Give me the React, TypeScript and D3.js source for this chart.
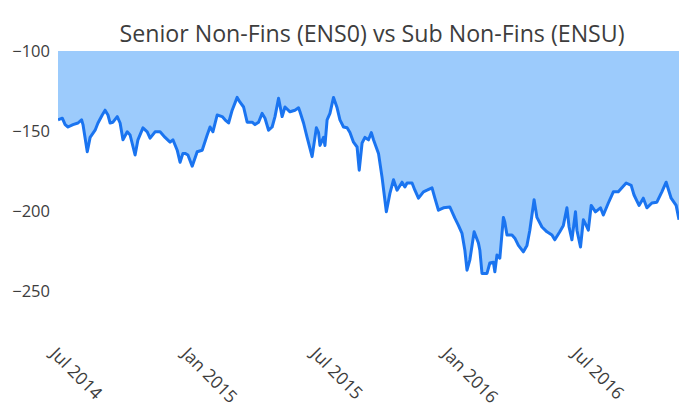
import React from "react";
import * as d3 from "d3";

const TITLE = "Senior Non-Fins (ENS0) vs Sub Non-Fins (ENSU)";

const dates: string[] = [
  "2014-07-09","2014-07-15","2014-07-19","2014-07-23","2014-07-30","2014-08-06","2014-08-11","2014-08-13","2014-08-19","2014-08-23",
  "2014-08-30","2014-09-03","2014-09-09","2014-09-13","2014-09-17","2014-09-20","2014-09-24","2014-09-30","2014-10-04","2014-10-08",
  "2014-10-14","2014-10-18","2014-10-25","2014-10-29","2014-11-05","2014-11-11","2014-11-15","2014-11-22","2014-11-29","2014-12-06",
  "2014-12-13","2014-12-17","2014-12-23","2014-12-27","2014-12-31","2015-01-03","2015-01-07","2015-01-13","2015-01-20","2015-01-27",
  "2015-02-03","2015-02-07","2015-02-11","2015-02-17","2015-02-24","2015-02-28","2015-03-05","2015-03-10","2015-03-17","2015-03-21",
  "2015-03-26","2015-03-31","2015-04-07","2015-04-11","2015-04-16","2015-04-21","2015-04-25","2015-04-30","2015-05-05","2015-05-09",
  "2015-05-14","2015-05-19","2015-05-23","2015-05-30","2015-06-06","2015-06-11","2015-06-13","2015-06-18","2015-06-23","2015-06-30",
  "2015-07-06","2015-07-09","2015-07-11","2015-07-16","2015-07-18","2015-07-21","2015-07-25","2015-07-30","2015-08-04","2015-08-08",
  "2015-08-13","2015-08-18","2015-08-22","2015-08-27","2015-09-01","2015-09-04","2015-09-08","2015-09-12","2015-09-17","2015-09-21",
  "2015-09-24","2015-10-01","2015-10-06","2015-10-12","2015-10-17","2015-10-22","2015-10-27","2015-11-03","2015-11-07","2015-11-10",
  "2015-11-17","2015-11-21","2015-11-26","2015-12-03","2015-12-08","2015-12-15","2015-12-19","2015-12-24","2015-12-31","2016-01-09",
  "2016-01-16","2016-01-21","2016-01-26","2016-01-30","2016-02-02","2016-02-06","2016-02-12","2016-02-18","2016-02-20","2016-02-23",
  "2016-03-01","2016-03-05","2016-03-10","2016-03-12","2016-03-15","2016-03-19","2016-03-24","2016-03-26","2016-03-29","2016-04-05",
  "2016-04-09","2016-04-14","2016-04-21","2016-04-26","2016-04-30","2016-05-06","2016-05-10","2016-05-17","2016-05-24","2016-05-31",
  "2016-06-04","2016-06-11","2016-06-16","2016-06-21","2016-06-24","2016-06-28","2016-07-03","2016-07-05","2016-07-10","2016-07-14",
  "2016-07-18","2016-07-21","2016-07-25","2016-07-31","2016-08-07","2016-08-11","2016-08-18","2016-08-25","2016-09-01","2016-09-06",
  "2016-09-12","2016-09-19","2016-09-23","2016-09-30","2016-10-06","2016-10-11","2016-10-18","2016-10-25","2016-11-01","2016-11-07",
  "2016-11-14","2016-11-21","2016-11-25"
];

const spread: number[] = [
  -143,-142,-146,-147.5,-146,-145,-143,-146,-163,-154,
  -149.5,-145,-140,-137,-140,-145,-144.5,-141,-145,-155.5,
  -150.5,-152.5,-165,-155.5,-148,-150.5,-154.5,-150.5,-150.5,-154,
  -157,-155.5,-162,-169.5,-164,-164,-165,-172,-163,-162,
  -152.5,-147.5,-150.5,-140,-141,-143,-145,-137,-129,-132,
  -135,-144.5,-144.5,-146,-144.5,-139,-142,-149.5,-147.5,-141,
  -129.5,-141,-135,-138,-137,-135.5,-138,-145,-154,-166,
  -148,-151,-159,-154,-159,-143,-139,-129,-135.5,-143,
  -147.5,-148,-151,-157,-160,-174.5,-157.5,-154,-155.5,-151,
  -155.5,-164,-179,-200.5,-189,-180.5,-187,-182,-185,-182.5,
  -182.5,-187,-192,-188,-187,-185.5,-192,-199.5,-198,-197.5,
  -204.5,-209,-214,-224.5,-237,-230.5,-213,-220,-224.5,-239,
  -239,-232.5,-232,-238,-227.5,-229.5,-204,-207,-215,-215,
  -217,-221.5,-225.5,-221.5,-212,-193,-204,-210,-213,-215,
  -218,-213,-209,-198,-210,-218,-200.5,-212,-222.5,-205.5,
  -209,-212,-196.5,-200.5,-198,-202.5,-195,-188,-188,-185.5,
  -182.5,-184,-190,-196.5,-192,-198,-195,-194.5,-188,-182,
  -192,-196.5,-205.5
];

const yTicks: number[] = [-100, -150, -200, -250];
const xTickDates: string[] = ["2014-07-01", "2015-01-01", "2015-07-01", "2016-01-01", "2016-07-01"];
const xTickLabels: string[] = ["Jul 2014", "Jan 2015", "Jul 2015", "Jan 2016", "Jul 2016"];

const W = 679;
const H = 403;
const M = { left: 58, right: 0, top: 51, bottom: 112 };

export default function App() {
  const parse = d3.timeParse("%Y-%m-%d");
  const data = dates.map((d, i) => ({ date: parse(d) as Date, v: spread[i] }));

  const x = d3
    .scaleTime()
    .domain([parse("2014-07-09") as Date, parse("2016-11-25") as Date])
    .range([M.left, W - M.right]);
  const y = d3.scaleLinear().domain([-100, -250]).range([M.top, M.top + 240]);

  const area = d3
    .area<{ date: Date; v: number }>()
    .x((d) => x(d.date))
    .y0(y(-100))
    .y1((d) => y(d.v));
  const line = d3
    .line<{ date: Date; v: number }>()
    .x((d) => x(d.date))
    .y((d) => y(d.v));

  const font = "'Open Sans', 'Noto Sans', sans-serif";

  return (
    <svg
      width={W}
      height={H}
      style={{ position: "absolute", left: 0, top: 0, background: "#fff" }}
      fontFamily={font}
    >
      <defs>
        <clipPath id="plotclip">
          <rect x={M.left} y={0} width={W - M.left - M.right} height={H} />
        </clipPath>
      </defs>
      <text x={372} y={42} textAnchor="middle" fontSize={23.2} fill="#3d3d3d">
        {TITLE}
      </text>
      <g clipPath="url(#plotclip)">
        <path d={area(data) || ""} fill="#9ccbfc" />
        <path
          d={line(data) || ""}
          fill="none"
          stroke="#1a74f0"
          strokeWidth={3}
          strokeLinejoin="round"
        />
      </g>
      {yTicks.map((t) => (
        <text
          key={t}
          x={50}
          y={y(t)}
          dy="0.35em"
          textAnchor="end"
          fontSize={16.5}
          fill="#3d3d3d"
        >
          {"\u2212" + Math.abs(t)}
        </text>
      ))}
      {xTickDates.map((d, i) => {
        const tx = x(parse(d) as Date) - 3;
        const ty = 355;
        return (
          <text
            key={d}
            x={tx}
            y={ty}
            transform={`rotate(45 ${tx} ${ty})`}
            textAnchor="start"
            fontSize={17.5}
            fill="#3d3d3d"
          >
            {xTickLabels[i]}
          </text>
        );
      })}
    </svg>
  );
}
